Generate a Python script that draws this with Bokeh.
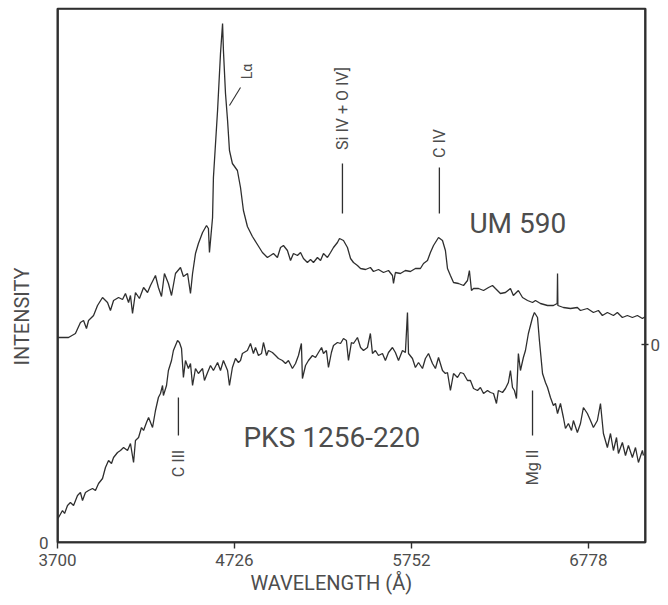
import numpy as np
from bokeh.plotting import figure
from bokeh.models import Range1d, FixedTicker, LinearAxis, Label, Title
from bokeh.embed import file_html
from bokeh.resources import INLINE

# ---------------- data ----------------
x_ticks = [3700, 4726, 5752, 6778]
x_range_end = 7109
y_range_end = 534          # arbitrary intensity units
upper_zero = 198           # zero level of the offset UM 590 spectrum

# UM 590 (plotted with offset, intensity relative to its own zero)
um590_wl = [
    3700, 3764, 3804, 3833, 3851, 3868, 3880, 3909, 3932, 3961,
    3990, 4007, 4025, 4054, 4077, 4094, 4112, 4123, 4135, 4152,
    4175, 4199, 4222, 4239, 4268, 4285, 4303, 4320, 4343, 4361,
    4384, 4413, 4430, 4454, 4471, 4483, 4500, 4517, 4541, 4564,
    4575, 4581, 4599, 4604, 4628, 4645, 4657, 4662, 4674, 4686,
    4697, 4714, 4743, 4761, 4778, 4801, 4830, 4859, 4888, 4917,
    4935, 4952, 4975, 4993, 5010, 5033, 5051, 5068, 5091, 5109,
    5126, 5149, 5167, 5184, 5207, 5225, 5242, 5265, 5283, 5300,
    5323, 5335, 5358, 5381, 5399, 5416, 5439, 5457, 5486, 5514,
    5532, 5561, 5590, 5619, 5642, 5648, 5659, 5688, 5717, 5746,
    5775, 5804, 5822, 5845, 5862, 5880, 5909, 5932, 5949, 5961,
    5978, 5996, 6025, 6054, 6077, 6088, 6100, 6112, 6141, 6170,
    6199, 6222, 6239, 6268, 6297, 6326, 6343, 6372, 6396, 6425,
    6454, 6471, 6500, 6541, 6575, 6597, 6599, 6601, 6633, 6674,
    6714, 6732, 6772, 6807, 6836, 6859, 6888, 6923, 6946, 6975,
    7004, 7033, 7062, 7091, 7109,
]
um590_flux = [
    7, 7, 11, 22, 24, 16, 24, 29, 39, 47,
    42, 34, 44, 47, 45, 51, 42, 49, 31, 52,
    46, 57, 52, 59, 69, 57, 48, 71, 61, 49,
    71, 77, 68, 71, 51, 71, 91, 101, 112, 119,
    116, 92, 127, 167, 234, 291, 321, 294, 251, 224,
    194, 181, 174, 157, 134, 118, 108, 100, 92, 87,
    89, 91, 87, 97, 99, 94, 84, 91, 89, 92,
    86, 82, 85, 82, 87, 84, 91, 87, 92, 97,
    102, 106, 104, 97, 86, 82, 79, 76, 75, 77,
    73, 75, 72, 74, 69, 61, 72, 71, 74, 73,
    76, 76, 81, 84, 92, 99, 107, 104, 94, 76,
    69, 62, 61, 59, 64, 74, 54, 56, 56, 54,
    57, 59, 56, 51, 52, 56, 49, 54, 47, 44,
    42, 44, 41, 39, 39, 41, 71, 39, 37, 36,
    37, 34, 36, 32, 34, 29, 32, 29, 32, 27,
    29, 27, 29, 26, 28,
]

# PKS 1256-220
pks_wl = [
    3700, 3706, 3729, 3741, 3758, 3775, 3793, 3816, 3833, 3845,
    3862, 3880, 3903, 3920, 3938, 3961, 3978, 3996, 4013, 4025,
    4048, 4065, 4083, 4106, 4123, 4141, 4152, 4170, 4187, 4199,
    4216, 4228, 4251, 4268, 4285, 4297, 4309, 4314, 4332, 4343,
    4361, 4372, 4396, 4407, 4419, 4430, 4442, 4459, 4471, 4483,
    4500, 4517, 4541, 4552, 4570, 4587, 4604, 4628, 4645, 4662,
    4686, 4697, 4714, 4732, 4749, 4761, 4772, 4801, 4819, 4836,
    4848, 4865, 4883, 4894, 4912, 4923, 4946, 4964, 4981, 5004,
    5022, 5039, 5062, 5080, 5097, 5114, 5120, 5138, 5155, 5178,
    5196, 5213, 5231, 5242, 5259, 5271, 5288, 5300, 5323, 5341,
    5358, 5375, 5387, 5404, 5416, 5439, 5457, 5474, 5497, 5514,
    5526, 5543, 5561, 5584, 5601, 5619, 5642, 5659, 5677, 5700,
    5717, 5729, 5735, 5758, 5775, 5793, 5816, 5833, 5851, 5874,
    5891, 5909, 5932, 5949, 5961, 5978, 5996, 6019, 6036, 6054,
    6077, 6094, 6112, 6135, 6152, 6170, 6193, 6210, 6228, 6245,
    6256, 6280, 6297, 6314, 6326, 6338, 6349, 6361, 6372, 6384,
    6401, 6413, 6430, 6454, 6465, 6483, 6494, 6512, 6529, 6541,
    6558, 6575, 6587, 6599, 6616, 6633, 6645, 6662, 6680, 6691,
    6714, 6732, 6749, 6772, 6790, 6807, 6830, 6848, 6865, 6888,
    6906, 6923, 6941, 6952, 6975, 6993, 7010, 7033, 7051, 7068,
    7091, 7097,
]
pks_flux = [
    24, 25, 32, 29, 37, 40, 37, 47, 50, 42,
    50, 52, 54, 52, 59, 64, 75, 82, 79, 85,
    90, 92, 95, 92, 99, 80, 102, 105, 115, 112,
    120, 125, 115, 132, 145, 149, 157, 147, 157, 172,
    182, 192, 202, 200, 194, 165, 182, 174, 179, 157,
    174, 169, 174, 162, 170, 177, 172, 180, 172, 182,
    172, 157, 175, 184, 180, 182, 189, 192, 199, 189,
    195, 187, 189, 200, 187, 192, 190, 187, 184, 182,
    179, 182, 174, 179, 187, 199, 164, 177, 182, 187,
    185, 190, 195, 189, 192, 175, 190, 197, 200, 199,
    204, 202, 182, 200, 199, 205, 195, 192, 195, 209,
    189, 192, 187, 189, 182, 190, 195, 190, 182, 192,
    190, 230, 189, 184, 175, 180, 174, 184, 189, 179,
    174, 185, 172, 169, 170, 152, 169, 165, 170, 169,
    162, 162, 154, 152, 155, 149, 152, 150, 149, 139,
    152, 150, 154, 160, 172, 155, 152, 144, 189, 172,
    185, 192, 209, 225, 230, 225, 202, 169, 160, 155,
    145, 137, 139, 129, 139, 125, 114, 119, 112, 122,
    110, 119, 135, 129, 122, 115, 122, 139, 109, 95,
    109, 92, 105, 89, 100, 87, 97, 85, 95, 80,
    92, 87,
]

# emission-line identifications
line_names = ["Si IV + O IV]", "C IV", "C III", "Mg II"]
line_wl = [5352, 5914, 4401, 6454]
line_tick_y0 = [329, 329, 107, 107]
line_tick_y1 = [379, 375, 145, 152]
line_label_y = [434, 399, 79, 75]

assert len(um590_wl) == len(um590_flux)
assert len(pks_wl) == len(pks_flux)

# ---------------- styling ----------------
FONT = "Roboto"
INK = "#2f2f2f"
TXT = "#4d4d4d"

p = figure(width=668, height=605, output_backend="svg", toolbar_location=None,
           x_range=Range1d(x_ticks[0], x_range_end), y_range=Range1d(0, y_range_end),
           min_border_left=57, min_border_right=23, min_border_top=8,
           min_border_bottom=63, background_fill_color="white",
           border_fill_color="white")
p.grid.visible = False
p.outline_line_color = INK
p.outline_line_width = 1.6
p.outline_line_alpha = 1.0

# bottom axis
xa = p.xaxis[0]
xa.ticker = FixedTicker(ticks=x_ticks)
xa.axis_line_color = INK
xa.axis_line_width = 1.6
xa.major_tick_in = 0
xa.major_tick_out = 6
xa.major_tick_line_color = INK
xa.major_tick_line_width = 1.4
xa.minor_tick_line_color = None
xa.major_label_standoff = 5
xa.major_label_text_font = FONT
xa.major_label_text_font_size = "17px"
xa.major_label_text_color = TXT

# left axis (only the zero of the lower spectrum)
ya = p.yaxis[0]
ya.ticker = FixedTicker(ticks=[0])
ya.axis_line_color = INK
ya.axis_line_width = 1.6
ya.major_tick_in = 0
ya.major_tick_out = 0
ya.major_tick_line_color = None
ya.minor_tick_line_color = None
ya.major_label_standoff = 9
ya.major_label_text_font = FONT
ya.major_label_text_font_size = "17px"
ya.major_label_text_color = TXT

# right axis (zero of the offset upper spectrum)
ra = LinearAxis(ticker=FixedTicker(ticks=[upper_zero]),
                major_label_overrides={upper_zero: "0"})
ra.axis_line_color = INK
ra.axis_line_width = 1.6
ra.major_tick_in = 4
ra.major_tick_out = 3
ra.major_tick_line_color = INK
ra.major_tick_line_width = 1.4
ra.minor_tick_line_color = None
ra.major_label_standoff = 2
ra.major_label_text_font = FONT
ra.major_label_text_font_size = "17px"
ra.major_label_text_color = TXT
p.add_layout(ra, "right")

# axis titles (placed off-centre as in the original)
p.add_layout(Title(text="WAVELENGTH (Å)", align="left", offset=193, standoff=0,
                   text_line_height=1.5, vertical_align="bottom",
                   text_font=FONT, text_font_size="20px", text_font_style="normal",
                   text_color=TXT), "below")
p.add_layout(Title(text="INTENSITY", align="left", offset=177, standoff=3,
                   text_font=FONT, text_font_size="20px", text_font_style="normal",
                   text_color=TXT), "left")

# frame box drawn along the plot ranges
x0, x1 = p.x_range.start, p.x_range.end
y0, y1 = p.y_range.start, p.y_range.end
p.segment(x0=[x0, x1, x0, x0], y0=[y0, y0, y0, y1],
          x1=[x0, x1, x1, x1], y1=[y1, y1, y0, y1],
          line_color=INK, line_width=2.6)

# spectra
p.line(um590_wl, np.array(um590_flux) + upper_zero, line_color=INK, line_width=1.3)
p.line(pks_wl, pks_flux, line_color=INK, line_width=1.3)

# line identification ticks
p.segment(x0=line_wl, y0=line_tick_y0, x1=line_wl, y1=line_tick_y1,
          line_color=INK, line_width=1.3)
# Ly-alpha leader line
p.segment(x0=[4697], y0=[437], x1=[4761], y1=[455], line_color=INK, line_width=1.1)

for name, wl, yl in zip(line_names, line_wl, line_label_y):
    p.add_layout(Label(x=wl, y=yl, text=name, angle=np.pi / 2,
                       text_align="center", text_baseline="middle",
                       text_font=FONT, text_font_size="16px", text_color=TXT))
p.add_layout(Label(x=4796, y=471, text="Lα", angle=np.pi / 2,
                   text_align="center", text_baseline="middle",
                   text_font=FONT, text_font_size="14px", text_color=TXT))

# object names
p.add_layout(Label(x=6088, y=319, text="UM 590", text_align="left",
                   text_baseline="alphabetic", text_font=FONT,
                   text_font_size="28px", text_color=TXT))
p.add_layout(Label(x=4778, y=105, text="PKS 1256-220", text_align="left",
                   text_baseline="alphabetic", text_font=FONT,
                   text_font_size="28px", text_color=TXT))

open("out.html", "w").write(file_html(p, INLINE))
